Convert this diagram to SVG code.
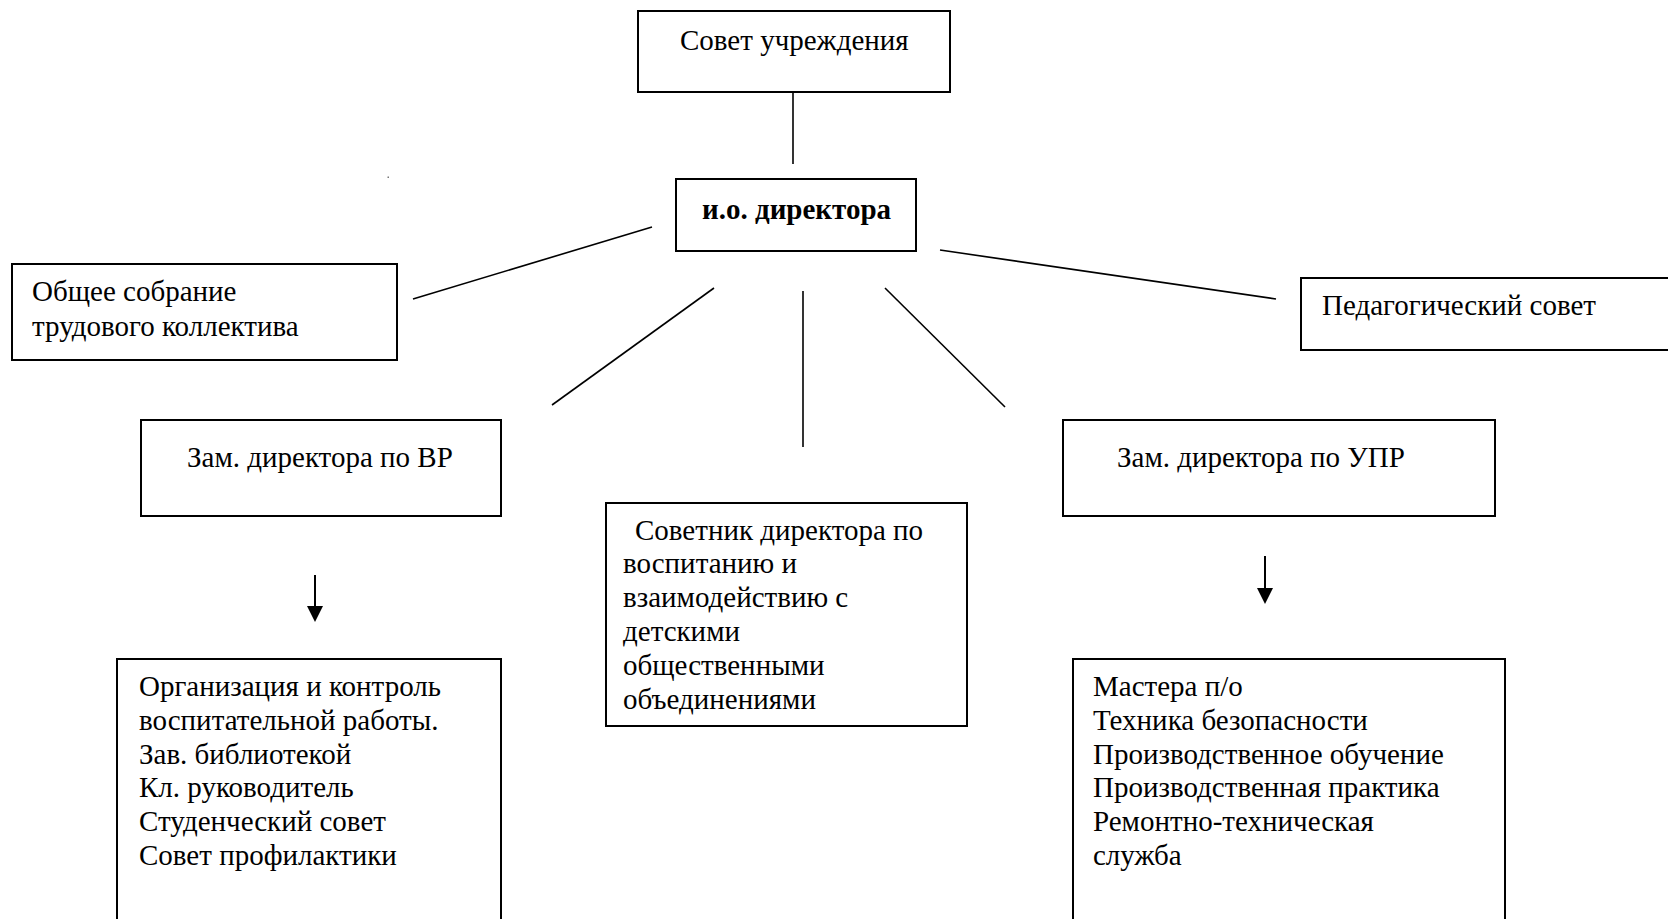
<svg xmlns="http://www.w3.org/2000/svg" width="1668" height="919" viewBox="0 0 1668 919">
<style>
.box{fill:#fff;stroke:#000;stroke-width:2}
.t{font-family:"Liberation Serif","Times New Roman",serif;font-size:29px;fill:#000}
.b{font-weight:bold}
.ln{stroke:#000;stroke-width:1.6;fill:none}
.ar{stroke:#000;stroke-width:2;fill:none}
.hd{fill:#000}
</style>
<rect width="1668" height="919" fill="#fff"/>
<g id="connectors">
<line class="ln" x1="793" y1="92" x2="793" y2="164"/>
<line class="ln" x1="652" y1="227" x2="413" y2="299"/>
<line class="ln" x1="940" y1="250" x2="1276" y2="299"/>
<line class="ln" x1="714" y1="288" x2="552" y2="405"/>
<line class="ln" x1="803" y1="291" x2="803" y2="447"/>
<line class="ln" x1="885" y1="288" x2="1005" y2="407"/>
<line class="ar" x1="315" y1="575" x2="315" y2="608"/>
<path class="hd" d="M307,606 L323,606 L315,622 Z"/>
<line class="ar" x1="1265" y1="556" x2="1265" y2="590"/>
<path class="hd" d="M1257,588 L1273,588 L1265,604 Z"/>
<rect x="387.5" y="176.5" width="1.5" height="1.5" fill="#777"/>
</g>
<g id="sovet">
<rect class="box" x="638" y="11" width="312" height="81"/>
<text class="t" x="680" y="50">Совет учреждения</text>
</g>
<g id="director">
<rect class="box" x="676" y="179" width="240" height="72"/>
<text class="t b" x="702" y="219">и.о. директора</text>
</g>
<g id="obshchee">
<rect class="box" x="12" y="264" width="385" height="96"/>
<text class="t" x="32" y="301">Общее собрание</text>
<text class="t" x="32" y="336">трудового коллектива</text>
</g>
<g id="pedsovet">
<rect class="box" x="1301" y="278" width="380" height="72"/>
<text class="t" x="1322" y="315">Педагогический совет</text>
</g>
<g id="zam-vr">
<rect class="box" x="141" y="420" width="360" height="96"/>
<text class="t" x="187" y="467">Зам. директора по ВР</text>
</g>
<g id="zam-upr">
<rect class="box" x="1063" y="420" width="432" height="96"/>
<text class="t" x="1117" y="467">Зам. директора по УПР</text>
</g>
<g id="sovetnik">
<rect class="box" x="606" y="503" width="361" height="223"/>
<text class="t" x="635" y="540">Советник директора по</text>
<text class="t" x="623" y="573">воспитанию и</text>
<text class="t" x="623" y="607">взаимодействию с</text>
<text class="t" x="623" y="641">детскими</text>
<text class="t" x="623" y="675">общественными</text>
<text class="t" x="623" y="709">объединениями</text>
</g>
<g id="vr-list">
<rect class="box" x="117" y="659" width="384" height="300"/>
<text class="t" x="139" y="696">Организация и контроль</text>
<text class="t" x="139" y="730">воспитательной работы.</text>
<text class="t" x="139" y="764">Зав. библиотекой</text>
<text class="t" x="139" y="797">Кл. руководитель</text>
<text class="t" x="139" y="831">Студенческий совет</text>
<text class="t" x="139" y="865">Совет профилактики</text>
</g>
<g id="upr-list">
<rect class="box" x="1073" y="659" width="432" height="300"/>
<text class="t" x="1093" y="696">Мастера п/о</text>
<text class="t" x="1093" y="730">Техника безопасности</text>
<text class="t" x="1093" y="764">Производственное обучение</text>
<text class="t" x="1093" y="797">Производственная практика</text>
<text class="t" x="1093" y="831">Ремонтно-техническая</text>
<text class="t" x="1093" y="865">служба</text>
</g>
</svg>
